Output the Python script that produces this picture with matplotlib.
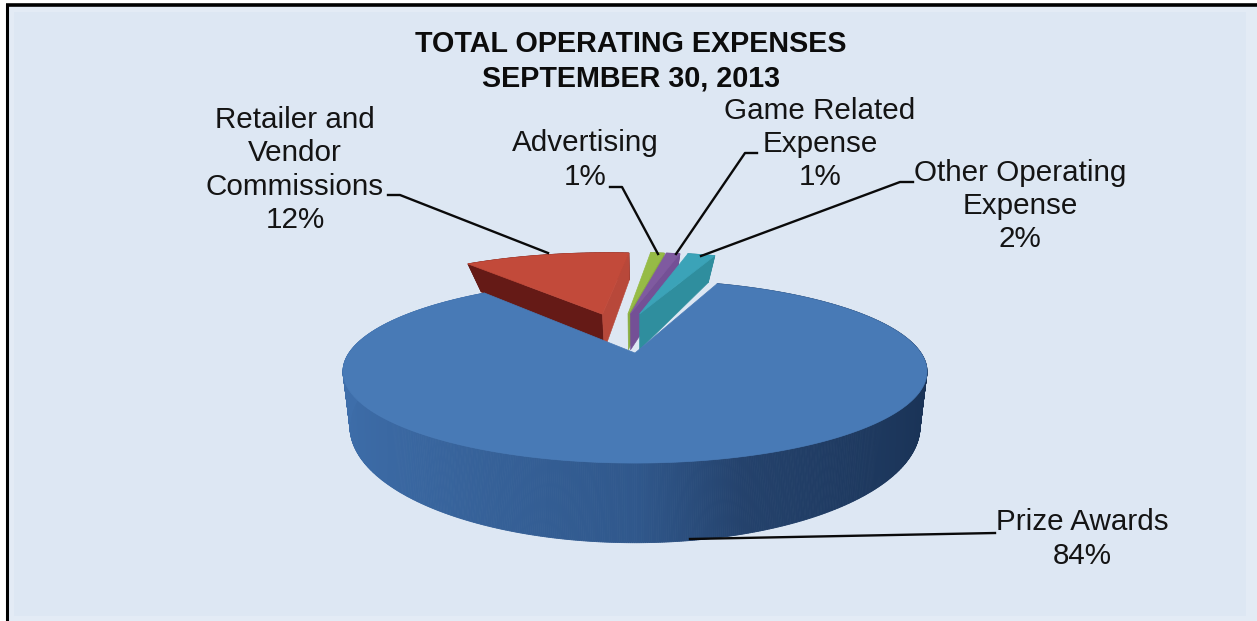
import numpy as np
import matplotlib
matplotlib.use("Agg")
import matplotlib.pyplot as plt
from matplotlib.patches import Polygon, Rectangle

plt.rcParams['font.family'] = ['Liberation Sans', 'DejaVu Sans']

title = "TOTAL OPERATING EXPENSES\nSEPTEMBER 30, 2013"
categories = ["Prize Awards", "Retailer and\nVendor\nCommissions", "Advertising",
              "Game Related\nExpense", "Other Operating\nExpense"]
shares = [84, 12, 1, 1, 2]

# slice colours: top, wall and cut faces
top_colors = ["#487ab6", "#c24a3a", "#96bb46", "#7f5aa0", "#3ba3b8"]
left_face = ["#3a6ba8", "#651a16", "#7f9f3a", "#6a4a88", "#2f8799"]
right_face = ["#3a6ba8", "#b8483a", "#8aae40", "#745096", "#2f8e9e"]

# slice offsets on the pie plane (sideways, backwards)
explode = [(0.0, 0.0), (-0.125, 0.485), (-0.027, 0.49), (-0.018, 0.49), (0.018, 0.49)]

first_angle = 20.0   # clockwise from the back of the pie
CX = 635


def top_xy(x, y):
    w = 1 + 0.2022 * y
    return CX + 286 * x / w, 353 - 87.8 * y / w


def bottom_xy(x, y):
    w = 1 + 0.25 * y
    return CX + 276 * x / w, 397.4 - 109 * y / w


def rim(a0, a1, off):
    ang = np.radians(np.linspace(a0, a1, max(int(abs(a1 - a0) * 3), 2) + 1))
    return np.sin(ang) + off[0], np.cos(ang) + off[1]


def side_color(x, base):
    # the blue wall gets darker towards the right, the others stay flat
    if base != 0:
        return left_face[base]
    r = np.interp(x, [-1, 0, 0.3, 1], [62, 48, 36, 25])
    g = np.interp(x, [-1, 0, 0.3, 1], [110, 88, 66, 50])
    b = np.interp(x, [-1, 0, 0.3, 1], [170, 140, 108, 85])
    return (r / 255, g / 255, b / 255)


def draw_slice(ax, i, a0, a1):
    off = explode[i]
    xs, ys = rim(a0, a1, off)

    # outer wall
    for k in range(len(xs) - 1):
        p = [top_xy(xs[k], ys[k]), top_xy(xs[k + 1], ys[k + 1]),
             bottom_xy(xs[k + 1], ys[k + 1]), bottom_xy(xs[k], ys[k])]
        c = side_color((xs[k] + xs[k + 1]) / 2, i)
        ax.add_patch(Polygon(p, closed=True, fc=c, ec=c, lw=0.6))

    # cut faces: the big slice hides its own, the thin ones only show the right one
    if i != 0:
        ax_x, ax_y = off
        if i == 1:
            face_l = [top_xy(ax_x, ax_y), top_xy(xs[0], ys[0]), bottom_xy(xs[0], ys[0]), bottom_xy(ax_x, ax_y)]
            ax.add_patch(Polygon(face_l, closed=True, fc=left_face[i], ec=left_face[i], lw=0.4))
        face_r = [top_xy(ax_x, ax_y), top_xy(xs[-1], ys[-1]), bottom_xy(xs[-1], ys[-1]), bottom_xy(ax_x, ax_y)]
        ax.add_patch(Polygon(face_r, closed=True, fc=right_face[i], ec=right_face[i], lw=0.4))

    # top surface
    pts = [top_xy(off[0], off[1])] + [top_xy(a, b) for a, b in zip(xs, ys)]
    ax.add_patch(Polygon(pts, closed=True, fc=top_colors[i], ec=top_colors[i], lw=0.5))


fig = plt.figure(figsize=(12.57, 6.21), dpi=100)
ax = fig.add_axes([0, 0, 1, 1])
ax.set_xlim(0, 1257)
ax.set_ylim(621, 0)
ax.axis("off")

# panel with its bevel and the black frame on the left and top
ax.add_patch(Rectangle((7, 4), 1250, 617, fc="#e3ebf5", ec="none"))
ax.add_patch(Rectangle((14, 12), 1232, 604, fc="#dde7f3", ec="none"))
ax.plot([7, 7], [621, 4], color="black", lw=2.2, solid_capstyle="butt")
ax.plot([6, 1257], [4.5, 4.5], color="black", lw=2.6, solid_capstyle="butt")

angles = np.cumsum([0] + [s * 3.6 for s in shares]) + first_angle
order = [1, 2, 3, 4, 0]
for i in order:
    draw_slice(ax, i, angles[i], angles[i + 1])

# leader lines
leaders = [
    ([995, 690], [533, 539]),
    ([388, 400, 548], [195, 195, 253]),
    ([610, 622, 658], [187, 187, 254]),
    ([757, 745, 676], [153, 153, 254]),
    ([913, 900, 701], [182, 182, 256]),
]
for lx, ly in leaders:
    ax.plot(lx, ly, color="#0a0a0a", lw=1.7, solid_joinstyle="round", zorder=5)

ax.text(631, 61, title, ha="center", va="center", fontsize=20.7, fontweight="bold",
        color="#0c0c0c", linespacing=1.29)

label_pos = [(1082, 539), (295, 170), (585, 160), (820, 144), (1020, 206)]
for name, share, (tx, ty) in zip(categories, shares, label_pos):
    ax.text(tx, ty, f"{name}\n{share}%", ha="center", va="center", fontsize=21.3,
            color="#141414", linespacing=1.24)

fig.savefig("out.png", dpi=100)
